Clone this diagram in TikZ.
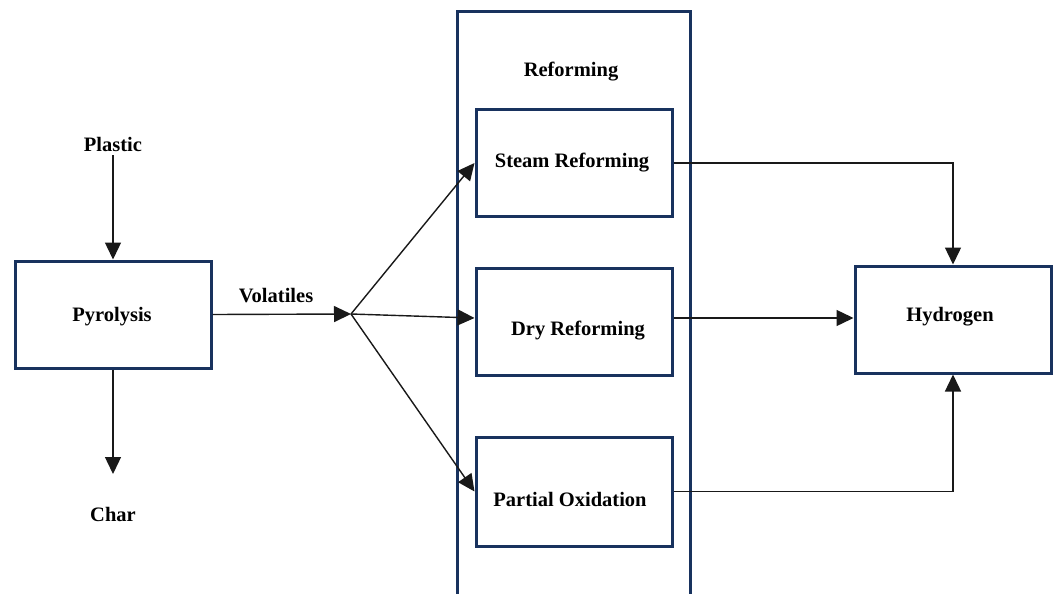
\documentclass[tikz,border=0pt]{standalone}
\usepackage{fontspec}
\setmainfont{Liberation Serif}
\usetikzlibrary{arrows.meta}
\definecolor{navy}{RGB}{24,50,94}
\definecolor{wire}{RGB}{25,25,25}
\tikzset{
  box/.style={draw=navy, line width=3pt, rectangle, inner sep=0pt,
              minimum width=196pt, minimum height=107pt},
  lbl/.style={font=\fontsize{20.5}{24}\selectfont\bfseries, inner sep=1pt, text=black,
              yshift=-2.5pt},
  arr/.style={draw=wire, line width=1.4pt,
              -{Triangle[length=17pt,width=16pt]}}
}
\begin{document}
\begin{tikzpicture}[x=1pt,y=-1pt]
  \useasboundingbox (0,0) rectangle (1057,594);
  \clip (0,0) rectangle (1057,594);
  \fill[white] (0,0) rectangle (1057,594);

  % reforming stage: tall frame running off the lower edge
  \node[box, minimum width=233pt, minimum height=620pt] (reform) at (573.5,322) {};
  \node[lbl] (reformlbl) at (571,69) {Reforming};

  % process boxes
  \node[box] (pyro)    at (113,314.5) {};
  \node[box] (steam)   at (574,163)     {};
  \node[box] (dry)     at (574,322)     {};
  \node[box, minimum height=109pt] (partial) at (574,491.5) {};
  \node[box] (hyd)     at (953,319.5)   {};

  \node[lbl] (pyrolbl)    at (112,314) {Pyrolysis};
  \node[lbl] (steamlbl)   at (572,160) {Steam Reforming};
  \node[lbl] (drylbl)     at (578,328) {Dry Reforming};
  \node[lbl] (partiallbl) at (570,497) {Partial Oxidation};
  \node[lbl] (hydlbl)     at (950,314) {Hydrogen};

  % feed and products of pyrolysis
  \node[lbl] (plastic)   at (113,142) {Plastic};
  \node[lbl] (char)      at (113,512) {Char};
  \node[lbl] (volatiles) at (276,293) {Volatiles};
  \coordinate (plastictail) at (113,155);
  \coordinate (chartip) at (113,474);
  \coordinate (fan) at (351,314);

  \draw[arr] (plastictail) -- (pyro.north);
  \draw[arr] (pyro.south) -- (chartip);
  \draw[arr] (pyro.east) -- (fan);

  % split of the volatiles into the three reforming routes
  \draw[arr] (fan) -- (steam.west);
  \draw[arr] (fan) -- ([yshift=4pt]dry.west);
  \draw[arr] (fan) -- (partial.west);

  % collection of the hydrogen
  \draw[arr] (steam.east) -| (hyd.north);
  \draw[arr] ([yshift=4pt]dry.east) -- ([yshift=4pt]dry.east -| hyd.west);
  \draw[arr] (partial.east) -| (hyd.south);
\end{tikzpicture}
\end{document}
